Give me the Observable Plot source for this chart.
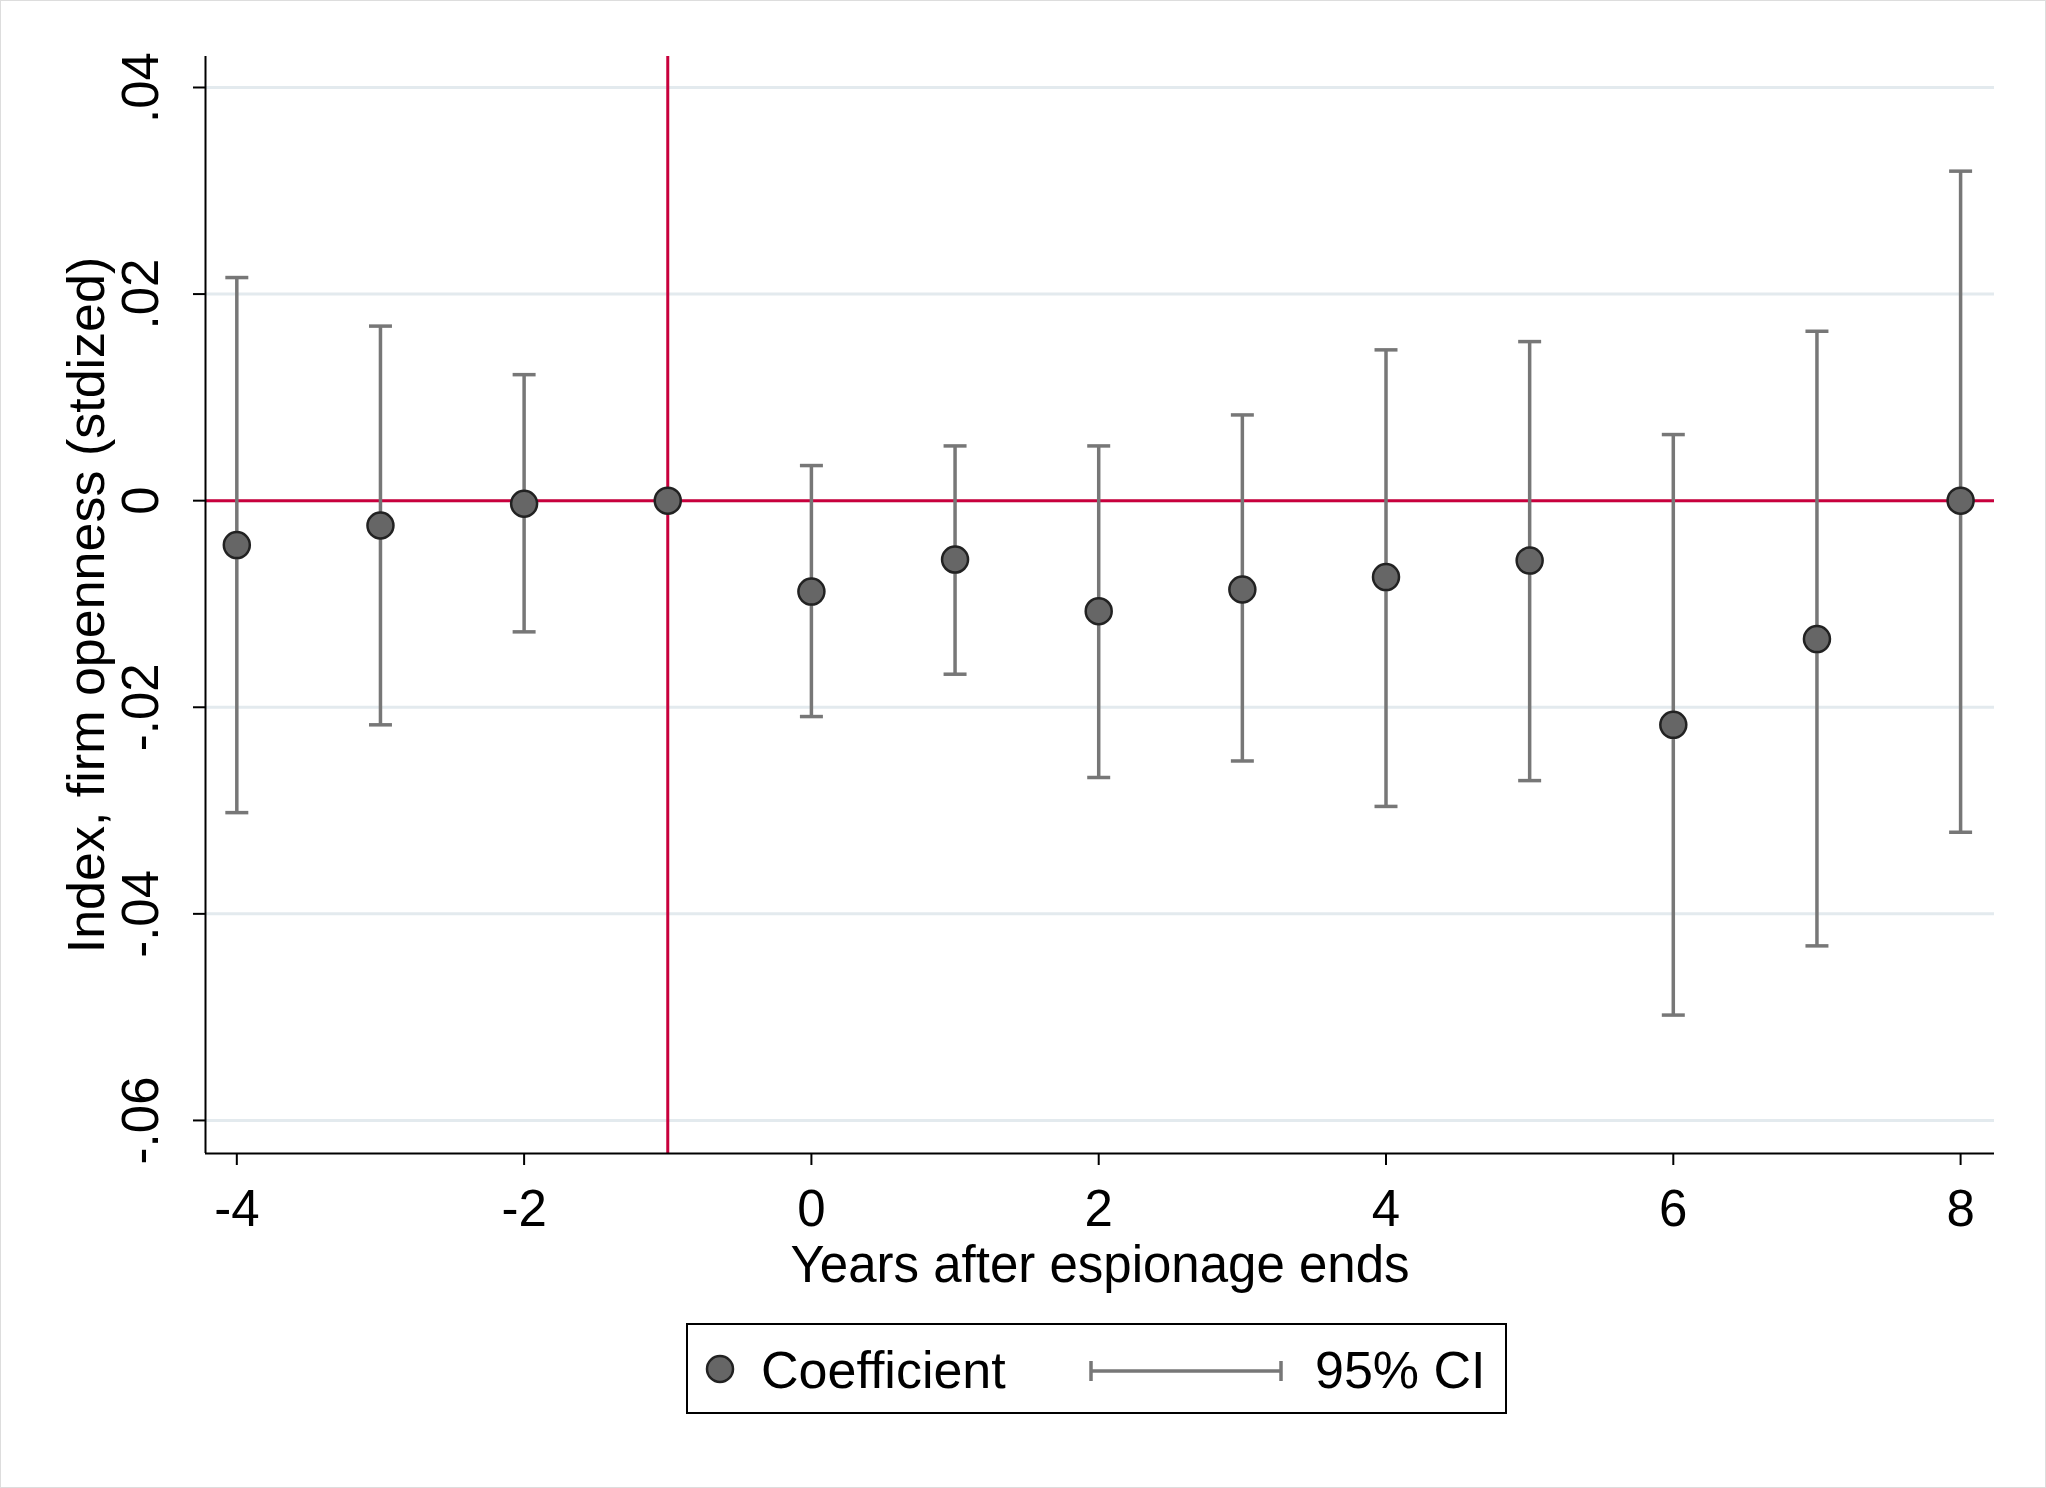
<!DOCTYPE html>
<html><head><meta charset="utf-8">
<script src="https://cdn.jsdelivr.net/npm/d3@7"></script>
<script src="https://cdn.jsdelivr.net/npm/@observablehq/plot@0.6"></script>
<style>
body{margin:0;background:#fff;font-family:"Liberation Sans",Arial,sans-serif;}
#wrap{position:relative;width:2044px;height:1486px;border:1px solid #ddd;}
#legend{position:absolute;left:685px;top:1322px;width:821px;height:91px;border:2px solid #000;box-sizing:border-box;}
</style></head><body>
<div id="wrap"><div id="chart"></div>
<div id="legend">
<svg width="817" height="87" style="position:absolute;left:0;top:0">
<circle cx="32" cy="44" r="13" fill="#666" stroke="#222" stroke-width="2.5"/>
<text x="73" y="63" font-size="52" font-family="Liberation Sans, Arial">Coefficient</text>
<line x1="403" x2="593" y1="46" y2="46" stroke="#777" stroke-width="3.5"/>
<line x1="403" x2="403" y1="36" y2="56" stroke="#777" stroke-width="3.5"/>
<line x1="593" x2="593" y1="36" y2="56" stroke="#777" stroke-width="3.5"/>
<text x="627" y="63" font-size="52" font-family="Liberation Sans, Arial">95% CI</text>
</svg></div></div>
<script>
const years = [-4,-3,-2,-1,0,1,2,3,4,5,6,7,8];
const coef  = [-0.0043,-0.0024,-0.0003,0,-0.0088,-0.0057,-0.0107,-0.0086,-0.0074,-0.0058,-0.0217,-0.0134,0];
const upper = [0.0216,0.0169,0.0122,null,0.0034,0.0053,0.0053,0.0083,0.0146,0.0154,0.0064,0.0164,0.0319];
const lower = [-0.0302,-0.0217,-0.0127,null,-0.0209,-0.0168,-0.0268,-0.0252,-0.0296,-0.0271,-0.0498,-0.0431,-0.0321];
const yTicks = [-0.06,-0.04,-0.02,0,0.02,0.04];
const xTicks = [-4,-2,0,2,4,6,8];

const data = years.map((x,i)=>({x,c:coef[i],hi:upper[i],lo:lower[i]}));
const ci = data.filter(d=>d.hi!=null);
const capW = 0.08;
const caps = ci.flatMap(d=>[{x:d.x,y:d.hi},{x:d.x,y:d.lo}]);
const fmt = d => d===0 ? "0" : (d<0?"-":"") + Math.abs(d).toFixed(2).replace(/^0/,"");
const red = "#c8003c";

const plot = Plot.plot({
  width:2044, height:1486,
  marginLeft:204, marginRight:51, marginTop:55, marginBottom:334,
  style:{fontFamily:"Liberation Sans, Arial, sans-serif", fontSize:"51px", background:"#fff"},
  x:{domain:[-4.218,8.236]},
  y:{domain:[-0.0632,0.043]},
  marks:[
    Plot.gridY(yTicks,{stroke:"#e3eaee",strokeOpacity:1,strokeWidth:3}),
    Plot.ruleY([0],{stroke:red,strokeWidth:3}),
    Plot.ruleX([-1],{stroke:red,strokeWidth:3}),
    Plot.ruleX(ci,{x:"x",y1:"lo",y2:"hi",stroke:"#777",strokeWidth:3.5}),
    Plot.link(caps,{x1:d=>d.x-capW,x2:d=>d.x+capW,y1:"y",y2:"y",stroke:"#777",strokeWidth:3.5}),
    Plot.dot(data,{x:"x",y:"c",r:13,fill:"#666",stroke:"#222",strokeWidth:2.5}),
    Plot.axisY(yTicks,{tickSize:12,tickFormat:()=>"",label:"Index, firm openness (stdized)",labelAnchor:"center",labelArrow:"none",labelOffset:138,fontSize:52,stroke:"#000",strokeWidth:2}),
    Plot.text(yTicks,{y:d=>d,text:fmt,frameAnchor:"left",dx:-64,rotate:-90,textAnchor:"middle",lineAnchor:"middle",fontSize:51,fill:"#000"}),
    Plot.axisX(xTicks,{tickSize:12,tickPadding:24,label:"Years after espionage ends",labelAnchor:"center",labelArrow:"none",labelOffset:128,fontSize:51,tickFormat:d=>String(d),stroke:"#000",strokeWidth:2}),
    Plot.ruleY([-0.0632],{stroke:"#000",strokeWidth:2}),
    Plot.ruleX([-4.218],{stroke:"#000",strokeWidth:2})
  ]
});
document.getElementById("chart").appendChild(plot);
</script></body></html>
